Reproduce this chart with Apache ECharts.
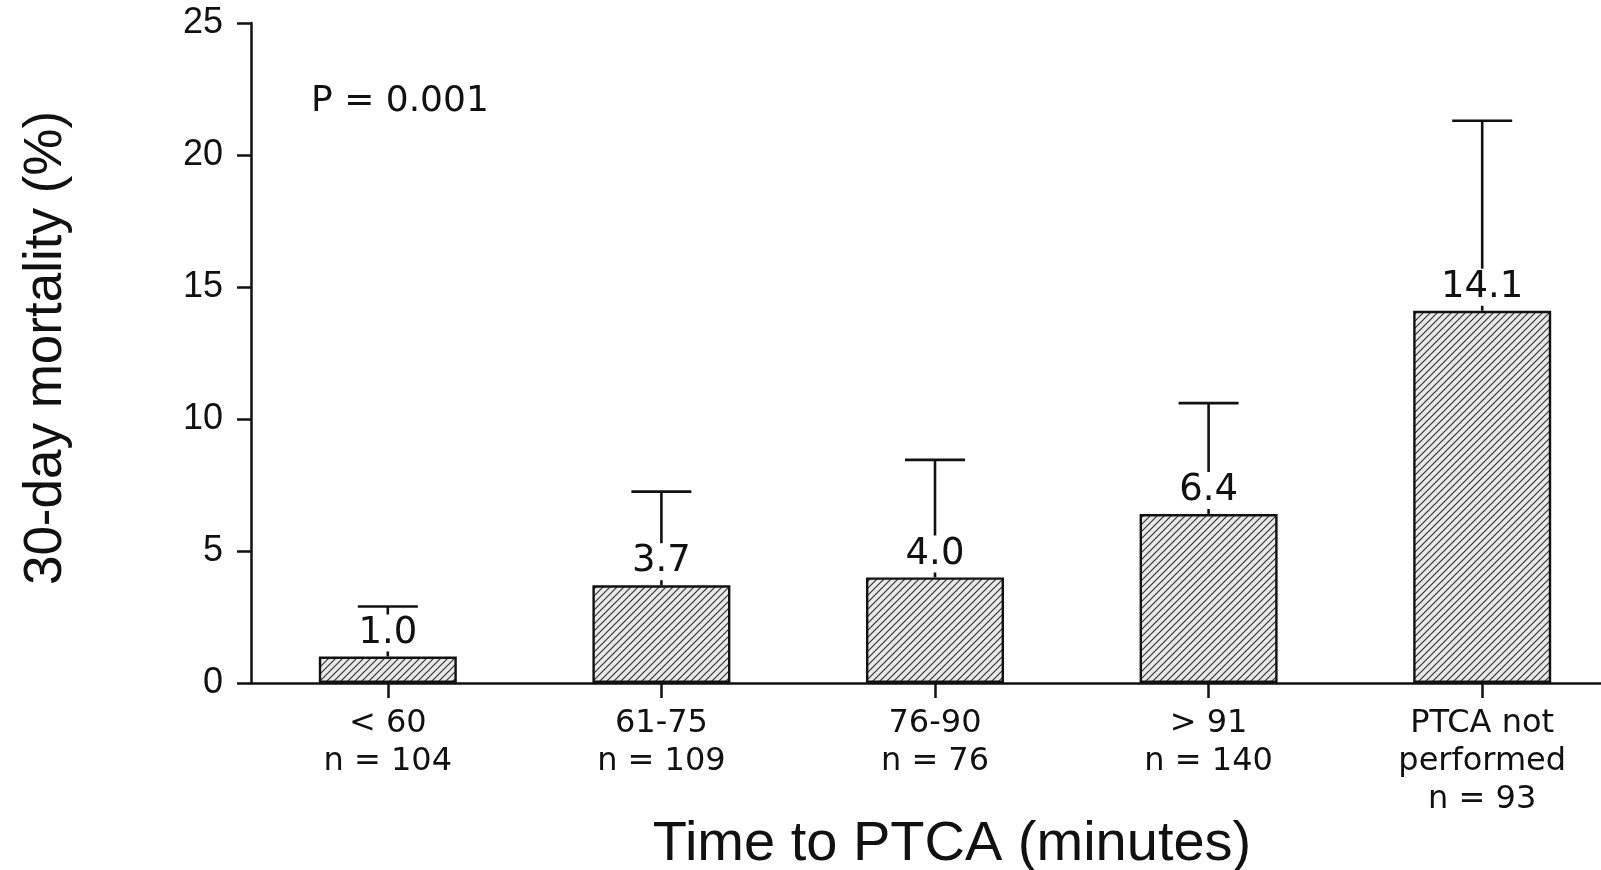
<!DOCTYPE html>
<html>
<head>
<meta charset="utf-8">
<script src="https://cdn.jsdelivr.net/npm/echarts@6/dist/echarts.min.js"></script>
<style>
  html, body { margin: 0; padding: 0; background: #fff; overflow: hidden; }
  #chart { width: 1619px; height: 870px; }
</style>
</head>
<body>
<div id="chart"></div>
<script>
// ---- data ----
const categories = ['< 60', '61-75', '76-90', '> 91', 'PTCA not\nperformed'];
const sampleSizes = [104, 109, 76, 140, 93];
const mortality = [1.0, 3.7, 4.0, 6.4, 14.1];
const upperError = [2.9, 7.25, 8.45, 10.6, 21.3];
const pValueText = 'P = 0.001';
const yMin = 0, yMax = 25, yStep = 5;

const FONT = '"Liberation Sans", Arial, Helvetica, sans-serif';
const WIDE = '"DejaVu Sans", Verdana, sans-serif';

// hatch pattern (diagonal "/" lines on a light stippled background)
function makeHatch() {
  const s = 7;
  const c = document.createElement('canvas');
  c.width = s; c.height = s;
  const g = c.getContext('2d');
  g.fillStyle = '#e9e9e9';
  g.fillRect(0, 0, s, s);
  g.strokeStyle = '#333';
  g.lineWidth = 1.2;
  g.beginPath();
  g.moveTo(-1, s + 1); g.lineTo(s + 1, -1);
  g.moveTo(-1, 1); g.lineTo(1, -1);
  g.moveTo(s - 1, s + 1); g.lineTo(s + 1, s - 1);
  g.stroke();
  return c;
}

const xLabels = categories.map((c, i) => c + '\nn = ' + sampleSizes[i]);
const errData = mortality.map((v, i) => [i, v, upperError[i]]);

const chart = echarts.init(document.getElementById('chart'), null, { renderer: 'canvas' });
chart.setOption({
  backgroundColor: '#fff',
  animation: false,
  grid: { left: 251, top: 23, bottom: 187, right: 0, containLabel: false, outerBoundsMode: 'none' },
  xAxis: {
    type: 'category',
    data: xLabels,
    boundaryGap: true,
    axisLine: { show: true, lineStyle: { color: '#111', width: 2.5 } },
    axisTick: { show: true, alignWithLabel: true, length: 15, lineStyle: { color: '#111', width: 2.5 } },
    axisLabel: {
      color: '#111', fontFamily: WIDE, fontSize: 32, lineHeight: 38, margin: 22, interval: 0
    },
    name: 'Time to PTCA (minutes)',
    nameLocation: 'middle',
    nameGap: 134,
    nameMoveOverlap: false,
    nameTextStyle: { color: '#111', fontFamily: FONT, fontSize: 56, padding: [0, 0, 0, 34] }
  },
  yAxis: {
    type: 'value',
    min: yMin, max: yMax, interval: yStep,
    splitLine: { show: false },
    axisLine: { show: true, lineStyle: { color: '#111', width: 2.5 } },
    axisTick: { show: true, inside: false, length: 14, lineStyle: { color: '#111', width: 2.5 } },
    axisLabel: { color: '#111', fontFamily: FONT, fontSize: 36, margin: 28 },
    name: '30-day mortality (%)',
    nameLocation: 'middle',
    nameGap: 160,
    nameRotate: 90,
    nameMoveOverlap: false,
    nameTextStyle: { color: '#111', fontFamily: FONT, fontSize: 53, padding: [0, 0, 18, 10] }
  },
  graphic: [{
    type: 'text',
    left: 311, top: 84,
    style: { text: pValueText, fill: '#111', font: '36px ' + WIDE }
  }],
  series: [
    {
      type: 'custom',
      z: 2,
      data: errData,
      renderItem: function (params, api) {
        const x = api.value(0);
        const base = api.coord([x, api.value(1)]);
        const top = api.coord([x, api.value(2)]);
        const half = 30;
        const st = { stroke: '#111', lineWidth: 2.6, fill: null };
        return {
          type: 'group',
          children: [
            { type: 'line', shape: { x1: base[0], y1: base[1], x2: top[0], y2: top[1] }, style: st },
            { type: 'line', shape: { x1: top[0] - half, y1: top[1], x2: top[0] + half, y2: top[1] }, style: st }
          ]
        };
      }
    },
    {
      type: 'bar',
      z: 3,
      data: mortality,
      barWidth: 138,
      itemStyle: {
        color: { image: makeHatch(), repeat: 'repeat' },
        borderColor: '#111',
        borderWidth: 2.4
      },
      label: {
        show: true,
        position: 'top',
        distance: 5,
        color: '#111',
        fontFamily: WIDE,
        fontSize: 37,
        backgroundColor: '#fff',
        padding: [0, 2, 0, 2],
        formatter: p => p.value.toFixed(1)
      }
    }
  ]
});
</script>
</body>
</html>
